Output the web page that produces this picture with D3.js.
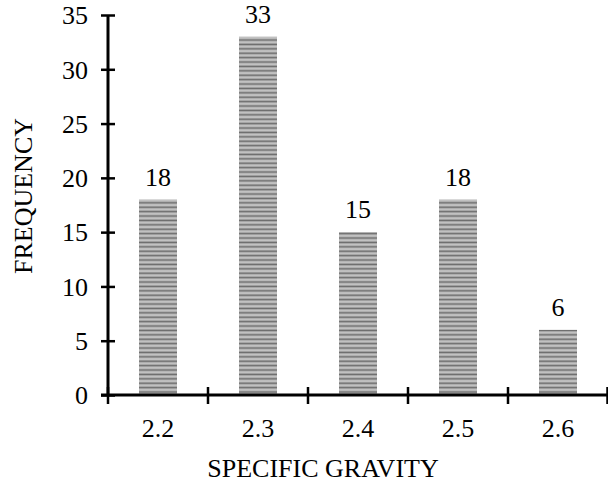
<!DOCTYPE html>
<html>
<head>
<meta charset="utf-8">
<script src="https://cdn.jsdelivr.net/npm/d3@7"></script>
<style>
  html, body { margin: 0; padding: 0; background: #fff; }
  svg text { font-family: "Liberation Serif", "Times New Roman", serif; fill: #000; }
</style>
</head>
<body>
<svg id="chart" width="608" height="488"></svg>
<script>
// Frequency of specific gravity classes
const categories = ["2.2", "2.3", "2.4", "2.5", "2.6"];
const frequencies = [18, 33, 15, 18, 6];
const yTicks = [0, 5, 10, 15, 20, 25, 30, 35];
const xTitle = "SPECIFIC GRAVITY";
const yTitle = "FREQUENCY";

const svg = d3.select("#chart");
const margin = { left: 108, right: 0, top: 15, bottom: 93 };
const W = 608, H = 488;
const FS = 26;

const x = d3.scaleBand()
  .domain(categories)
  .range([margin.left, W - margin.right])
  .paddingInner(0.62)
  .paddingOuter(0.31);

const y = d3.scaleLinear()
  .domain([0, 35])
  .range([H - margin.bottom, margin.top]);

// Horizontal striped fill for the bars
const defs = svg.append("defs");
const pat = defs.append("pattern")
  .attr("id", "stripes")
  .attr("patternUnits", "userSpaceOnUse")
  .attr("width", 8).attr("height", 4.4);
const stripeRows = ["#6c6c6c", "#8e8e8e", "#c2c2c2", "#9c9c9c"];
stripeRows.forEach((c, i) => {
  pat.append("rect").attr("x", 0).attr("y", i * 1.1)
    .attr("width", 8).attr("height", 1.15).attr("fill", c);
});

// Bars
svg.append("g").selectAll("rect")
  .data(categories)
  .join("rect")
  .attr("x", d => x(d))
  .attr("width", x.bandwidth())
  .attr("y", (d, i) => y(frequencies[i]))
  .attr("height", (d, i) => y(0) - y(frequencies[i]))
  .attr("fill", "url(#stripes)");

// Value labels
svg.append("g").selectAll("text")
  .data(categories)
  .join("text")
  .attr("x", d => x(d) + x.bandwidth() / 2)
  .attr("y", (d, i) => y(frequencies[i]) - 14)
  .attr("text-anchor", "middle")
  .attr("font-size", FS)
  .text((d, i) => frequencies[i]);

// Y axis
const yAxis = svg.append("g")
  .attr("transform", `translate(${margin.left},0)`)
  .call(d3.axisLeft(y).tickValues(yTicks).tickSize(7).tickPadding(13));
yAxis.select(".domain")
  .attr("stroke", "#000").attr("stroke-width", 3)
  .attr("d", `M0,${y(0)}V${y(35)}`);
yAxis.selectAll(".tick line")
  .attr("x1", -7).attr("x2", 7)
  .attr("stroke", "#000").attr("stroke-width", 2.5);
yAxis.selectAll(".tick text")
  .attr("font-size", FS)
  .attr("font-family", "Liberation Serif, Times New Roman, serif")
  .attr("fill", "#000")
  .attr("dy", "0.34em");

// X axis with category boundary ticks
const xAxisG = svg.append("g").attr("transform", `translate(0,${y(0)})`);
xAxisG.append("line")
  .attr("x1", margin.left - 7).attr("x2", W)
  .attr("y1", 0).attr("y2", 0)
  .attr("stroke", "#000").attr("stroke-width", 3);
const step = x.step();
const boundaries = categories.map(d => x(d) - (step - x.bandwidth()) / 2);
xAxisG.selectAll("line.tk")
  .data(boundaries.concat([W - 0.5]))
  .join("line")
  .attr("class", "tk")
  .attr("x1", d => d).attr("x2", d => d)
  .attr("y1", -8).attr("y2", 9)
  .attr("stroke", "#000").attr("stroke-width", 2.5);
xAxisG.selectAll("text")
  .data(categories)
  .join("text")
  .attr("x", d => x(d) + x.bandwidth() / 2)
  .attr("y", 42)
  .attr("text-anchor", "middle")
  .attr("font-size", FS)
  .text(d => d);

// Axis titles
svg.append("text")
  .attr("x", 323)
  .attr("y", 477)
  .attr("text-anchor", "middle")
  .attr("font-size", FS)
  .text(xTitle);

svg.append("text")
  .attr("transform", `translate(32,196) rotate(-90)`)
  .attr("text-anchor", "middle")
  .attr("font-size", FS)
  .text(yTitle);
</script>
</body>
</html>
